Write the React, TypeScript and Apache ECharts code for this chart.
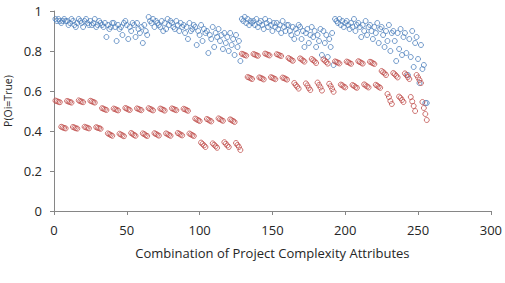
import React, { useEffect, useRef } from "react";
import * as echarts from "echarts";

const xTicks = [0, 50, 100, 150, 200, 250, 300];
const yTicks = [0, 0.2, 0.4, 0.6, 0.8, 1];

// Blue series: combinations 1..256
const blueValues = [
  0.96, 0.95, 0.96, 0.95, 0.94, 0.95, 0.96, 0.95,
  0.95, 0.93, 0.94, 0.96, 0.95, 0.93, 0.92, 0.94,
  0.96, 0.95, 0.94, 0.92, 0.95, 0.96, 0.94, 0.93,
  0.95, 0.93, 0.94, 0.96, 0.92, 0.93, 0.95, 0.94,
  0.93, 0.92, 0.94, 0.87, 0.93, 0.91, 0.92, 0.94,
  0.94, 0.92, 0.85, 0.93, 0.91, 0.92, 0.88, 0.94,
  0.95, 0.93, 0.86, 0.92, 0.90, 0.94, 0.93, 0.87,
  0.94, 0.91, 0.89, 0.92, 0.84, 0.93, 0.90, 0.88,
  0.97, 0.95, 0.94, 0.96, 0.92, 0.95, 0.94, 0.93,
  0.92, 0.95, 0.90, 0.94, 0.91, 0.96, 0.93, 0.95,
  0.94, 0.92, 0.91, 0.95, 0.93, 0.90, 0.94, 0.92,
  0.93, 0.89, 0.92, 0.86, 0.94, 0.90, 0.91, 0.93,
  0.92, 0.83, 0.90, 0.88, 0.93, 0.85, 0.91, 0.89,
  0.90, 0.79, 0.88, 0.86, 0.92, 0.82, 0.89, 0.87,
  0.91, 0.85, 0.88, 0.81, 0.89, 0.84, 0.87, 0.80,
  0.89, 0.83, 0.86, 0.78, 0.88, 0.82, 0.85, 0.75,
  0.96, 0.95, 0.97, 0.94, 0.96, 0.93, 0.95, 0.94,
  0.95, 0.93, 0.96, 0.92, 0.94, 0.95, 0.93, 0.91,
  0.96, 0.94, 0.92, 0.95, 0.93, 0.90, 0.94, 0.92,
  0.94, 0.91, 0.93, 0.89, 0.95, 0.92, 0.90, 0.93,
  0.93, 0.90, 0.88, 0.92, 0.86, 0.91, 0.89, 0.93,
  0.92, 0.86, 0.90, 0.82, 0.89, 0.91, 0.84, 0.88,
  0.92, 0.87, 0.90, 0.82, 0.88, 0.85, 0.91, 0.78,
  0.90, 0.84, 0.88, 0.77, 0.86, 0.82, 0.89, 0.73,
  0.96, 0.95, 0.94, 0.96, 0.93, 0.95, 0.92, 0.94,
  0.95, 0.93, 0.91, 0.94, 0.92, 0.96, 0.90, 0.93,
  0.94, 0.92, 0.87, 0.93, 0.90, 0.95, 0.88, 0.92,
  0.93, 0.90, 0.86, 0.92, 0.89, 0.94, 0.84, 0.91,
  0.92, 0.88, 0.82, 0.90, 0.85, 0.93, 0.80, 0.89,
  0.90, 0.85, 0.75, 0.89, 0.81, 0.91, 0.78, 0.87,
  0.89, 0.79, 0.68, 0.86, 0.77, 0.90, 0.72, 0.84,
  0.87, 0.76, 0.64, 0.83, 0.71, 0.73, 0.54, 0.54,
];

// Red series: combinations 1..256
const redValues = [
  0.552, 0.549, 0.546, 0.544, 0.421, 0.418, 0.415, 0.413,
  0.550, 0.547, 0.545, 0.542, 0.420, 0.417, 0.414, 0.412,
  0.553, 0.549, 0.547, 0.544, 0.421, 0.418, 0.416, 0.413,
  0.551, 0.548, 0.545, 0.542, 0.419, 0.416, 0.414, 0.411,
  0.514, 0.511, 0.508, 0.505, 0.388, 0.384, 0.380, 0.376,
  0.512, 0.509, 0.506, 0.503, 0.386, 0.382, 0.378, 0.374,
  0.515, 0.512, 0.508, 0.505, 0.390, 0.385, 0.380, 0.376,
  0.513, 0.510, 0.507, 0.504, 0.388, 0.384, 0.379, 0.375,
  0.514, 0.510, 0.507, 0.503, 0.389, 0.385, 0.381, 0.377,
  0.512, 0.509, 0.506, 0.502, 0.388, 0.384, 0.380, 0.376,
  0.513, 0.510, 0.507, 0.504, 0.390, 0.386, 0.382, 0.378,
  0.511, 0.508, 0.505, 0.501, 0.387, 0.383, 0.379, 0.375,
  0.462, 0.458, 0.454, 0.450, 0.342, 0.335, 0.328, 0.320,
  0.460, 0.456, 0.452, 0.448, 0.338, 0.331, 0.324, 0.316,
  0.463, 0.459, 0.455, 0.451, 0.344, 0.336, 0.328, 0.320,
  0.458, 0.454, 0.450, 0.445, 0.340, 0.330, 0.320, 0.305,
  0.786, 0.783, 0.780, 0.777, 0.670, 0.667, 0.664, 0.660,
  0.785, 0.782, 0.779, 0.776, 0.668, 0.665, 0.662, 0.658,
  0.787, 0.784, 0.781, 0.778, 0.669, 0.666, 0.663, 0.659,
  0.784, 0.781, 0.778, 0.775, 0.667, 0.664, 0.661, 0.657,
  0.765, 0.760, 0.756, 0.751, 0.640, 0.630, 0.622, 0.612,
  0.763, 0.758, 0.752, 0.747, 0.638, 0.628, 0.615, 0.605,
  0.760, 0.754, 0.748, 0.740, 0.642, 0.630, 0.618, 0.602,
  0.758, 0.752, 0.745, 0.737, 0.636, 0.624, 0.610, 0.596,
  0.748, 0.745, 0.742, 0.738, 0.632, 0.628, 0.622, 0.618,
  0.747, 0.744, 0.740, 0.736, 0.630, 0.626, 0.620, 0.616,
  0.749, 0.745, 0.741, 0.737, 0.633, 0.628, 0.623, 0.618,
  0.746, 0.743, 0.739, 0.735, 0.631, 0.626, 0.621, 0.616,
  0.700, 0.694, 0.688, 0.680, 0.585, 0.570, 0.550, 0.535,
  0.690, 0.684, 0.676, 0.668, 0.572, 0.565, 0.555, 0.545,
  0.688, 0.680, 0.670, 0.660, 0.570, 0.548, 0.525, 0.500,
  0.680, 0.668, 0.655, 0.640, 0.545, 0.515, 0.485, 0.455,
];

const xTitle = "Combination of Project Complexity Attributes";
const yTitle = "P(Oi=True)";

const FONT = "'Open Sans', sans-serif";

export default function App() {
  const ref = useRef<HTMLDivElement>(null);
  useEffect(() => {
    if (!ref.current) return;
    const chart = echarts.init(ref.current, undefined, { renderer: "svg" });
    const toPairs = (arr: number[]) => arr.map((v, i) => [i + 1, v]);
    const axisLine = { show: true, lineStyle: { color: "#868686", width: 1 } };
    chart.setOption({
      animation: false,
      backgroundColor: "#ffffff",
      grid: { left: 54, right: 14, top: 11, bottom: 72 },
      xAxis: {
        type: "value",
        min: xTicks[0],
        max: xTicks[xTicks.length - 1],
        interval: 50,
        axisLine,
        axisTick: { show: true, length: 4, lineStyle: { color: "#868686" } },
        splitLine: { show: false },
        axisLabel: { color: "#262626", fontSize: 13, fontFamily: FONT, margin: 12 },
        name: xTitle,
        nameLocation: "middle",
        nameGap: 35,
        nameTextStyle: { color: "#262626", fontSize: 13, fontFamily: FONT },
      },
      yAxis: {
        type: "value",
        min: yTicks[0],
        max: yTicks[yTicks.length - 1],
        interval: 0.2,
        axisLine,
        axisTick: { show: true, length: 4, lineStyle: { color: "#868686" } },
        splitLine: { show: false },
        axisLabel: { color: "#262626", fontSize: 13, fontFamily: FONT, margin: 12 },
      },
      graphic: [
        {
          type: "text",
          x: 8,
          y: 101,
          rotation: Math.PI / 2,
          style: {
            text: yTitle,
            fill: "#262626",
            fontSize: 10.5,
            fontFamily: FONT,
            align: "center",
            verticalAlign: "middle",
          },
        },
      ],
      series: [
        {
          type: "scatter",
          data: toPairs(blueValues),
          symbol: "circle",
          symbolSize: 5,
          itemStyle: { color: "rgba(0,0,0,0)", borderColor: "#4F81BD", borderWidth: 1 },
        },
        {
          type: "scatter",
          data: toPairs(redValues),
          symbol: "circle",
          symbolSize: 5,
          itemStyle: { color: "rgba(0,0,0,0)", borderColor: "#C0504D", borderWidth: 1 },
        },
      ],
    });
    return () => chart.dispose();
  }, []);
  return <div ref={ref} style={{ width: 505, height: 283, position: "absolute", left: 0, top: 0 }} />;
}
